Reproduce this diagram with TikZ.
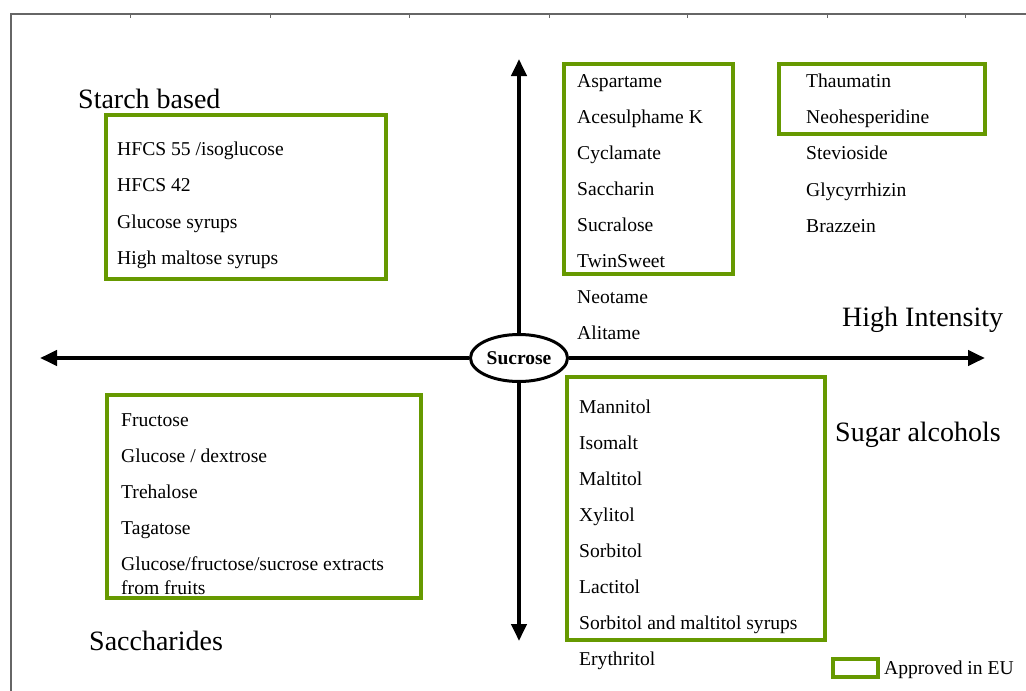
\documentclass[tikz,border=0pt]{standalone}
\usepackage{fontspec}
\setmainfont{Liberation Serif}
\usetikzlibrary{arrows.meta,shapes.geometric}
\definecolor{verdeUE}{RGB}{102,153,0}
\tikzset{
>=Triangle,
voce/.style={anchor=west,inner sep=0pt,font=\fontsize{19.6}{24}\selectfont,text height=13pt,text depth=4pt},
titolo/.style={anchor=west,inner sep=0pt,font=\fontsize{28}{34}\selectfont,text height=19pt,text depth=6pt},
approvato/.style={draw=verdeUE,line width=4pt},
asse/.style={->,line width=4pt,>={Triangle[length=17pt,width=15pt]}},
cornice/.style={draw=black!60,line width=1.2pt}}

\begin{document}
\begin{tikzpicture}[x=1pt,y=-1pt]
\useasboundingbox (0,0) rectangle (1026,691);

% cornice
\draw[cornice] (11,691) -- (11,14) -- (1026,14);
\foreach \x in {130,270,409,549,687,827,965}
  \draw[cornice,line width=0.6pt] (\x,14) -- (\x,18);

% assi
\node[draw,ellipse,line width=3pt,minimum width=97pt,minimum height=47pt,inner sep=0pt,fill=white,font=\bfseries\fontsize{19.5}{22}\selectfont] (sucrose) at (519,358) {Sucrose};
\coordinate (nord) at (519,59);
\coordinate (sud) at (519,641);
\coordinate (ovest) at (40,358);
\coordinate (est) at (985,358);
\draw[asse] (sucrose) -- (nord);
\draw[asse] (sucrose) -- (sud);
\draw[asse] (sucrose) -- (ovest);
\draw[asse] (sucrose) -- (est);

% titoli
\node[titolo] (amido) at (78,102) {Starch based};
\node[titolo] (intensi) at (842,320) {High Intensity};
\node[titolo] (polioli) at (835,435) {Sugar alcohols};
\node[titolo] (saccaridi) at (89,644) {Saccharides};

% riquadri approvati
\draw[approvato] (106,115) rectangle (386,279);
\draw[approvato] (107,395) rectangle (421,598);
\draw[approvato] (567,377) rectangle (825,640);
\draw[approvato] (564,64) rectangle (733,274);
\draw[approvato] (779,64) rectangle (985,134);

% voci
\foreach \nome [count=\i] in {HFCS 55 /isoglucose,HFCS 42,Glucose syrups,High maltose syrups}
  \node[voce] (a\i) at (117,{151+36.3*(\i-1)}) {\nome};
\foreach \nome [count=\i] in {Fructose,Glucose / dextrose,Trehalose,Tagatose,Glucose/fructose/sucrose extracts}
  \node[voce] (s\i) at (121,{422+36*(\i-1)}) {\nome};
\node[voce] (s6) at (121,590) {from fruits};
\foreach \nome [count=\i] in {Aspartame,Acesulphame K,Cyclamate,Saccharin,Sucralose,TwinSweet,Neotame,Alitame}
  \node[voce] (h\i) at (577,{83+36*(\i-1)}) {\nome};
\foreach \nome [count=\i] in {Thaumatin,Neohesperidine,Stevioside,Glycyrrhizin,Brazzein}
  \node[voce] (n\i) at (806,{83+36.2*(\i-1)}) {\nome};
\foreach \nome [count=\i] in {Mannitol,Isomalt,Maltitol,Xylitol,Sorbitol,Lactitol,Sorbitol and maltitol syrups,Erythritol}
  \node[voce] (p\i) at (579,{409+36*(\i-1)}) {\nome};

% legenda
\draw[approvato] (833,659) rectangle (878,677);
\node[voce] (legenda) at (884,670) {Approved in EU};

\end{tikzpicture}
\end{document}
